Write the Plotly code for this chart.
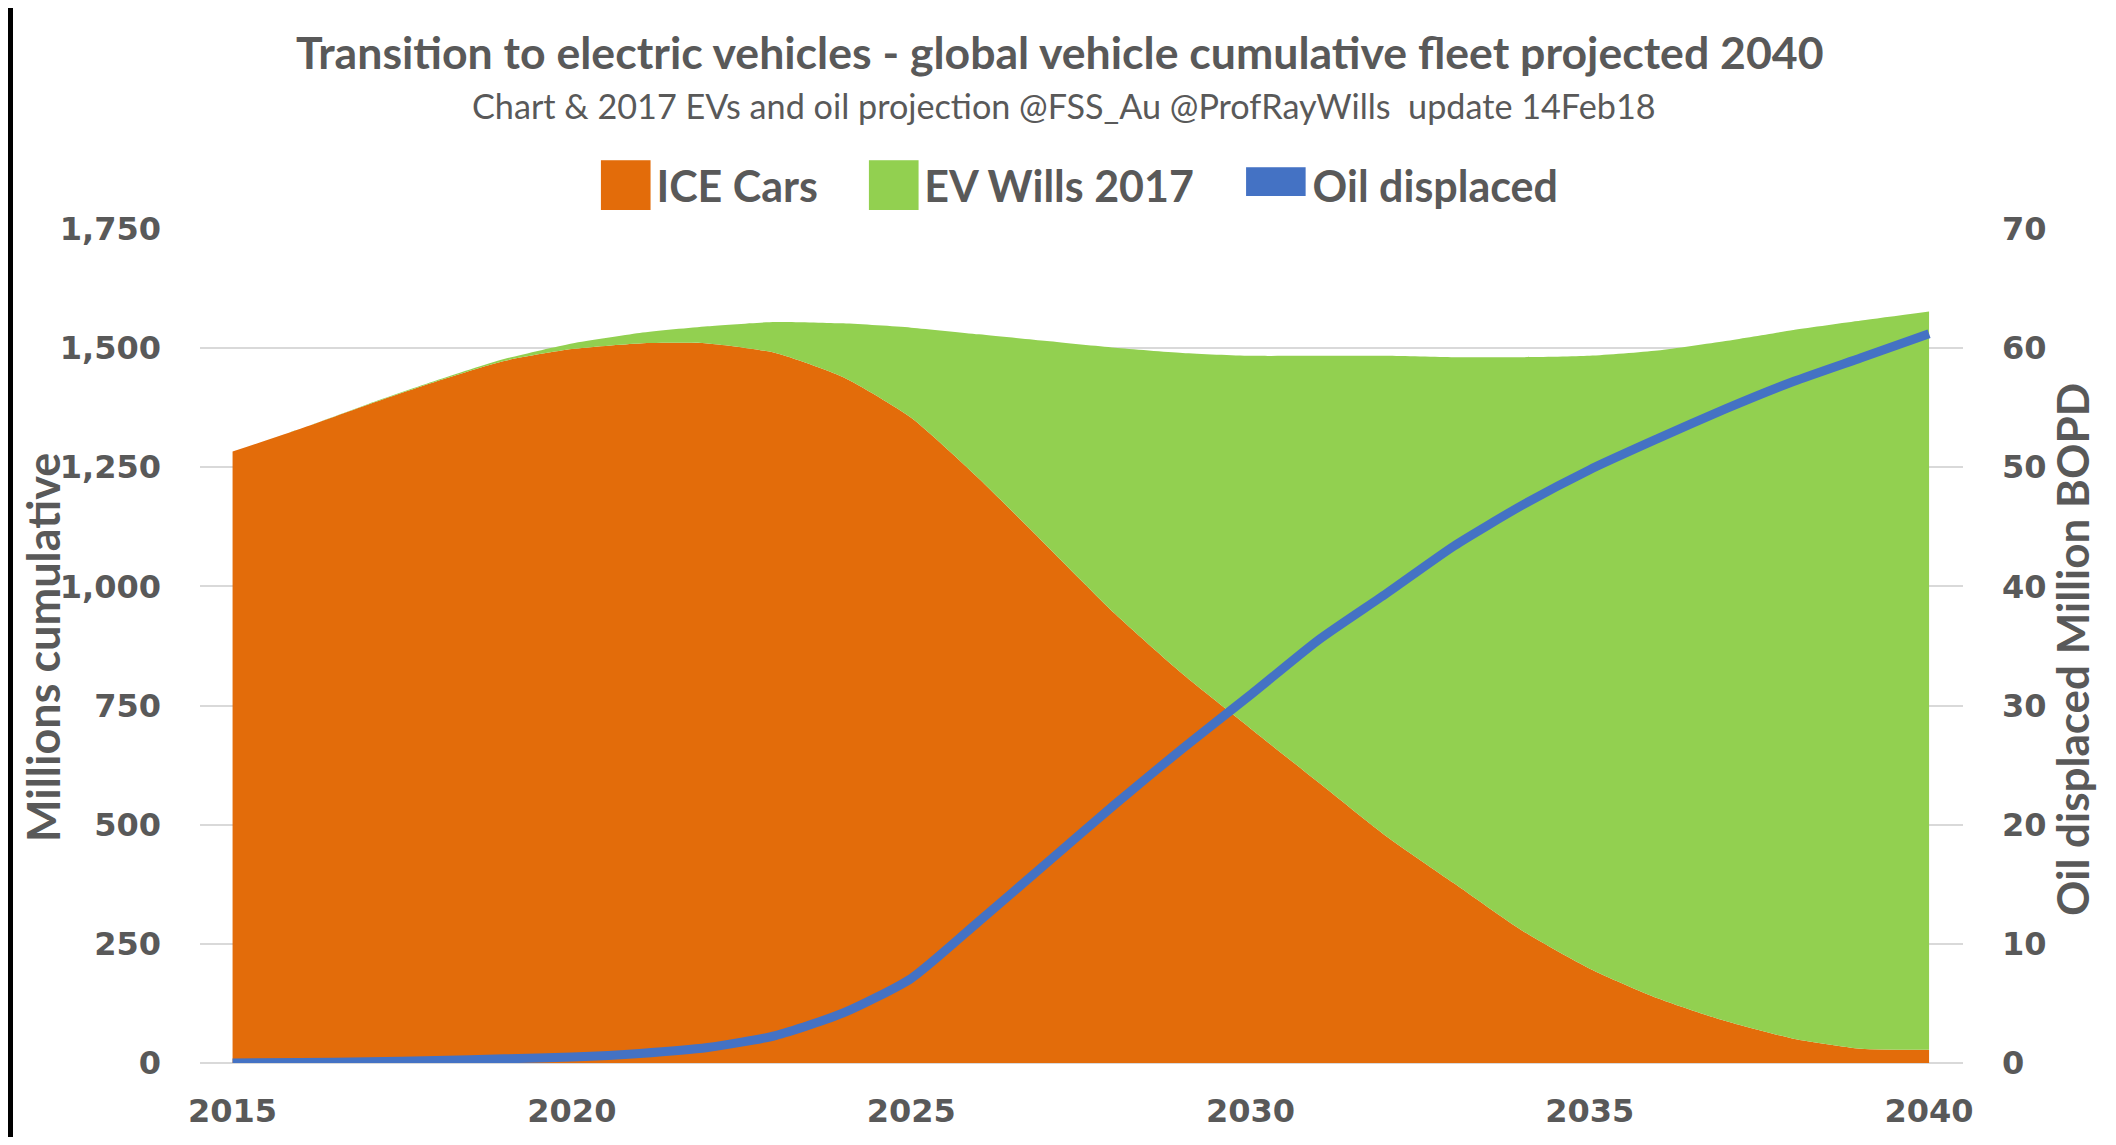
import plotly.graph_objects as go

years = list(range(2015, 2041))
ice_cars = [1283, 1331, 1382, 1430, 1473, 1498, 1510, 1510, 1490, 1439,
            1354, 1226, 1085, 943, 816, 702, 589, 476, 377, 278,
            198, 136, 88, 51, 30, 28]
fleet_total = [1283, 1331, 1383, 1432, 1477, 1510, 1532, 1546, 1555, 1552,
               1543, 1529, 1515, 1501, 1490, 1484, 1484, 1484, 1481, 1481,
               1484, 1495, 1515, 1538, 1558, 1577]
ev_wills = [t - i for t, i in zip(fleet_total, ice_cars)]
oil_displaced = [0.0, 0.05, 0.1, 0.2, 0.35, 0.5, 0.8, 1.3, 2.3, 4.2,
                 7.1, 11.9, 16.8, 21.7, 26.4, 30.9, 35.5, 39.4, 43.4, 46.8,
                 49.8, 52.4, 54.9, 57.2, 59.2, 61.2]
x_ticks = [2015, 2020, 2025, 2030, 2035, 2040]

ORANGE = "#E36C0A"
GREEN = "#92D050"
BLUE = "#4472C4"
GRAY = "#595959"
TXT_FONT = "Lato"
NUM_FONT = "DejaVu Sans"

# page has an 8px body margin, so the figure is a bit smaller than the window
W, H = 2100, 1129
L, R, T, B = 192, 145, 221, 74
PW, PH = W - L - R, H - T - B

def px_x(px):
    return (px - L) / PW

def px_y(py):
    return (H - B - py) / PH

def swatch(color, label, glyph="\u25A0", size=65):
    return ("<span style='color:%s;font-family:DejaVu Sans;font-size:%dpx'>%s</span>%s"
            % (color, size, glyph, label))

fig = go.Figure()
fig.add_trace(go.Scatter(
    x=years, y=ice_cars, name="ICE Cars", stackgroup="fleet", mode="none",
    fillcolor=ORANGE, line=dict(shape="spline", smoothing=0.6, width=0),
    showlegend=False,
))
fig.add_trace(go.Scatter(
    x=years, y=ev_wills, name="EV Wills 2017", stackgroup="fleet", mode="none",
    fillcolor=GREEN, line=dict(shape="spline", smoothing=0.6, width=0),
    showlegend=False,
))
fig.add_trace(go.Scatter(
    x=years, y=oil_displaced, name="Oil displaced", yaxis="y2", mode="lines",
    line=dict(color=BLUE, width=9, shape="spline", smoothing=0.6),
    showlegend=False,
))
# legend entries (Excel-style swatches)
fig.add_trace(go.Scatter(
    x=[None], y=[None], mode="lines", line=dict(width=0, color=ORANGE),
    name=swatch(ORANGE, "ICE Cars"), legendrank=1, hoverinfo="skip",
))
fig.add_trace(go.Scatter(
    x=[None], y=[None], mode="lines", line=dict(width=0, color=GREEN),
    name=swatch(GREEN, "EV Wills 2017"), legendrank=2, hoverinfo="skip",
))
fig.add_trace(go.Scatter(
    x=[None], y=[None], mode="lines", line=dict(width=0, color=BLUE),
    name=swatch(BLUE, "Oil displaced", glyph="\u25AC", size=78), legendrank=3,
    hoverinfo="skip",
))

fig.update_layout(
    width=W, height=H,
    margin=dict(l=L, r=R, t=T, b=B),
    paper_bgcolor="white", plot_bgcolor="white",
    showlegend=True,
    legend=dict(
        orientation="h", x=px_x(547), xanchor="left", y=px_y(177), yanchor="middle",
        font=dict(family=TXT_FONT, size=43, color=GRAY, weight="bold"),
        itemwidth=30, bgcolor="rgba(0,0,0,0)", traceorder="normal",
    ),
    xaxis=dict(
        range=[2014.52, 2040.5], tickvals=x_ticks, showgrid=False,
        zeroline=False, showline=False, ticks="", automargin=False,
        tickfont=dict(family=NUM_FONT, size=32, color=GRAY, weight="bold"),
        ticklabelstandoff=26,
    ),
    yaxis=dict(
        range=[0, 1750], dtick=250, tickformat=",", showgrid=True,
        gridcolor="#D9D9D9", gridwidth=2, zeroline=True, zerolinecolor="#D9D9D9",
        zerolinewidth=2, showline=False, ticks="", automargin=False,
        tickfont=dict(family=NUM_FONT, size=32, color=GRAY, weight="bold"),
        ticklabelstandoff=38,
    ),
    yaxis2=dict(
        range=[0, 70], dtick=10, overlaying="y", side="right", showgrid=False,
        zeroline=False, showline=False, ticks="", automargin=False,
        tickfont=dict(family=NUM_FONT, size=32, color=GRAY, weight="bold"),
        ticklabelstandoff=38,
    ),
    annotations=[
        dict(text="Transition to electric vehicles - global vehicle cumulative fleet projected 2040",
             xref="paper", yref="paper", x=px_x(1052), y=px_y(43), showarrow=False,
             xanchor="center", yanchor="middle",
             font=dict(family=TXT_FONT, size=44.6, color=GRAY, weight="bold")),
        dict(text="Chart &amp; 2017 EVs and oil projection @FSS_Au @ProfRayWills\u00a0 update 14Feb18",
             xref="paper", yref="paper", x=px_x(1056), y=px_y(97), showarrow=False,
             xanchor="center", yanchor="middle",
             font=dict(family=TXT_FONT, size=34.2, color=GRAY)),
        dict(text="Millions cumulative", textangle=-90,
             xref="paper", yref="paper", x=px_x(35), y=px_y(640), showarrow=False,
             xanchor="center", yanchor="middle",
             font=dict(family=TXT_FONT, size=45, color=GRAY, weight="bold")),
        dict(text="Oil displaced Million BOPD", textangle=-90,
             xref="paper", yref="paper", x=px_x(2064), y=px_y(642), showarrow=False,
             xanchor="center", yanchor="middle",
             font=dict(family=TXT_FONT, size=44, color=GRAY, weight="bold")),
    ],
    shapes=[
        dict(type="rect", xref="paper", yref="paper", x0=px_x(0), x1=px_x(5),
             y0=px_y(H), y1=px_y(0), fillcolor="black", line=dict(width=0), layer="above"),
    ],
)

fig.write_html("out.html")
